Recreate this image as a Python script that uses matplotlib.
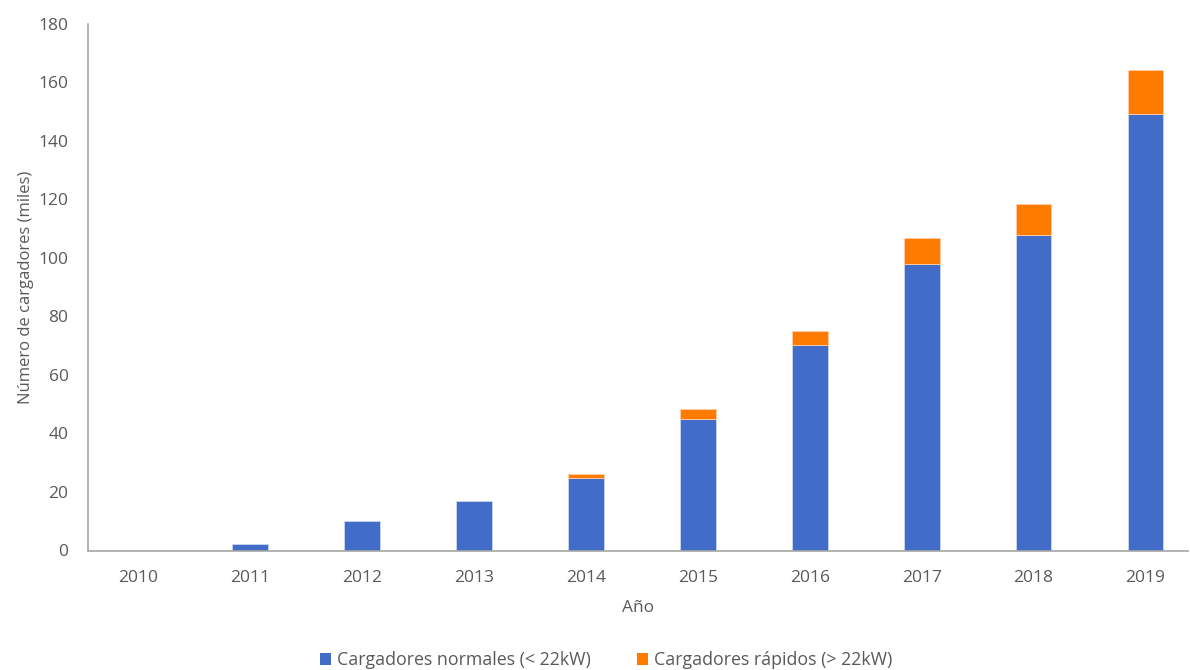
import matplotlib.pyplot as plt
import numpy as np

years = ["2010", "2011", "2012", "2013", "2014", "2015", "2016", "2017", "2018", "2019"]
normales = [0, 2.3, 10.0, 17.0, 24.8, 44.9, 70.3, 98.0, 107.8, 149.3]
rapidos = [0, 0, 0, 0, 1.5, 3.4, 4.8, 8.9, 10.7, 15.1]
y_ticks = [0, 20, 40, 60, 80, 100, 120, 140, 160, 180]

plt.rcParams['font.family'] = ['Open Sans', 'DejaVu Sans']
text_color = '#595959'
axis_color = '#a6a6a6'
fs = 12.5

fig = plt.figure(figsize=(11.9, 6.7), dpi=100)
ax = fig.add_axes([88 / 1190, 1 - 550.5 / 670, 1100 / 1190, 526.5 / 670])

x = np.arange(len(years))
w = 0.32

def edges(vals, col):
    return [col if v > 0 else 'none' for v in vals]

ax.bar(x, normales, width=w, color='#416CC8', edgecolor=edges(normales, '#c9d6f0'),
       linewidth=0.6, label='Cargadores normales (< 22kW)', zorder=2)
ax.bar(x, rapidos, width=w, bottom=normales, color='#FF7B00',
       edgecolor=edges(rapidos, '#ffd0a8'), linewidth=0.6,
       label='Cargadores rápidos (> 22kW)', zorder=2)

ax.set_xlim(-0.45, 9.38)
ax.set_ylim(0, 180)
ax.set_yticks(y_ticks)
ax.set_xticks(x)
ax.set_xticklabels(years)
ax.tick_params(axis='both', length=0, colors=text_color, labelsize=fs)
ax.tick_params(axis='y', pad=14)
ax.tick_params(axis='x', pad=14)

for s in ['top', 'right']:
    ax.spines[s].set_visible(False)
for s in ['left', 'bottom']:
    ax.spines[s].set_color(axis_color)
    ax.spines[s].set_linewidth(1.2)

ax.set_xlabel('Año', color=text_color, fontsize=fs, labelpad=10)
ax.set_ylabel('Número de cargadores (miles)', color=text_color, fontsize=12, labelpad=3)

leg = fig.legend(loc='center', bbox_to_anchor=(606 / 1190, 1 - 660 / 670), ncol=2,
                 frameon=False, fontsize=12.8, handlelength=0.65, handleheight=0.65,
                 handletextpad=0.3, columnspacing=2.6)
for t in leg.get_texts():
    t.set_color(text_color)

fig.savefig('out.png', dpi=100)
